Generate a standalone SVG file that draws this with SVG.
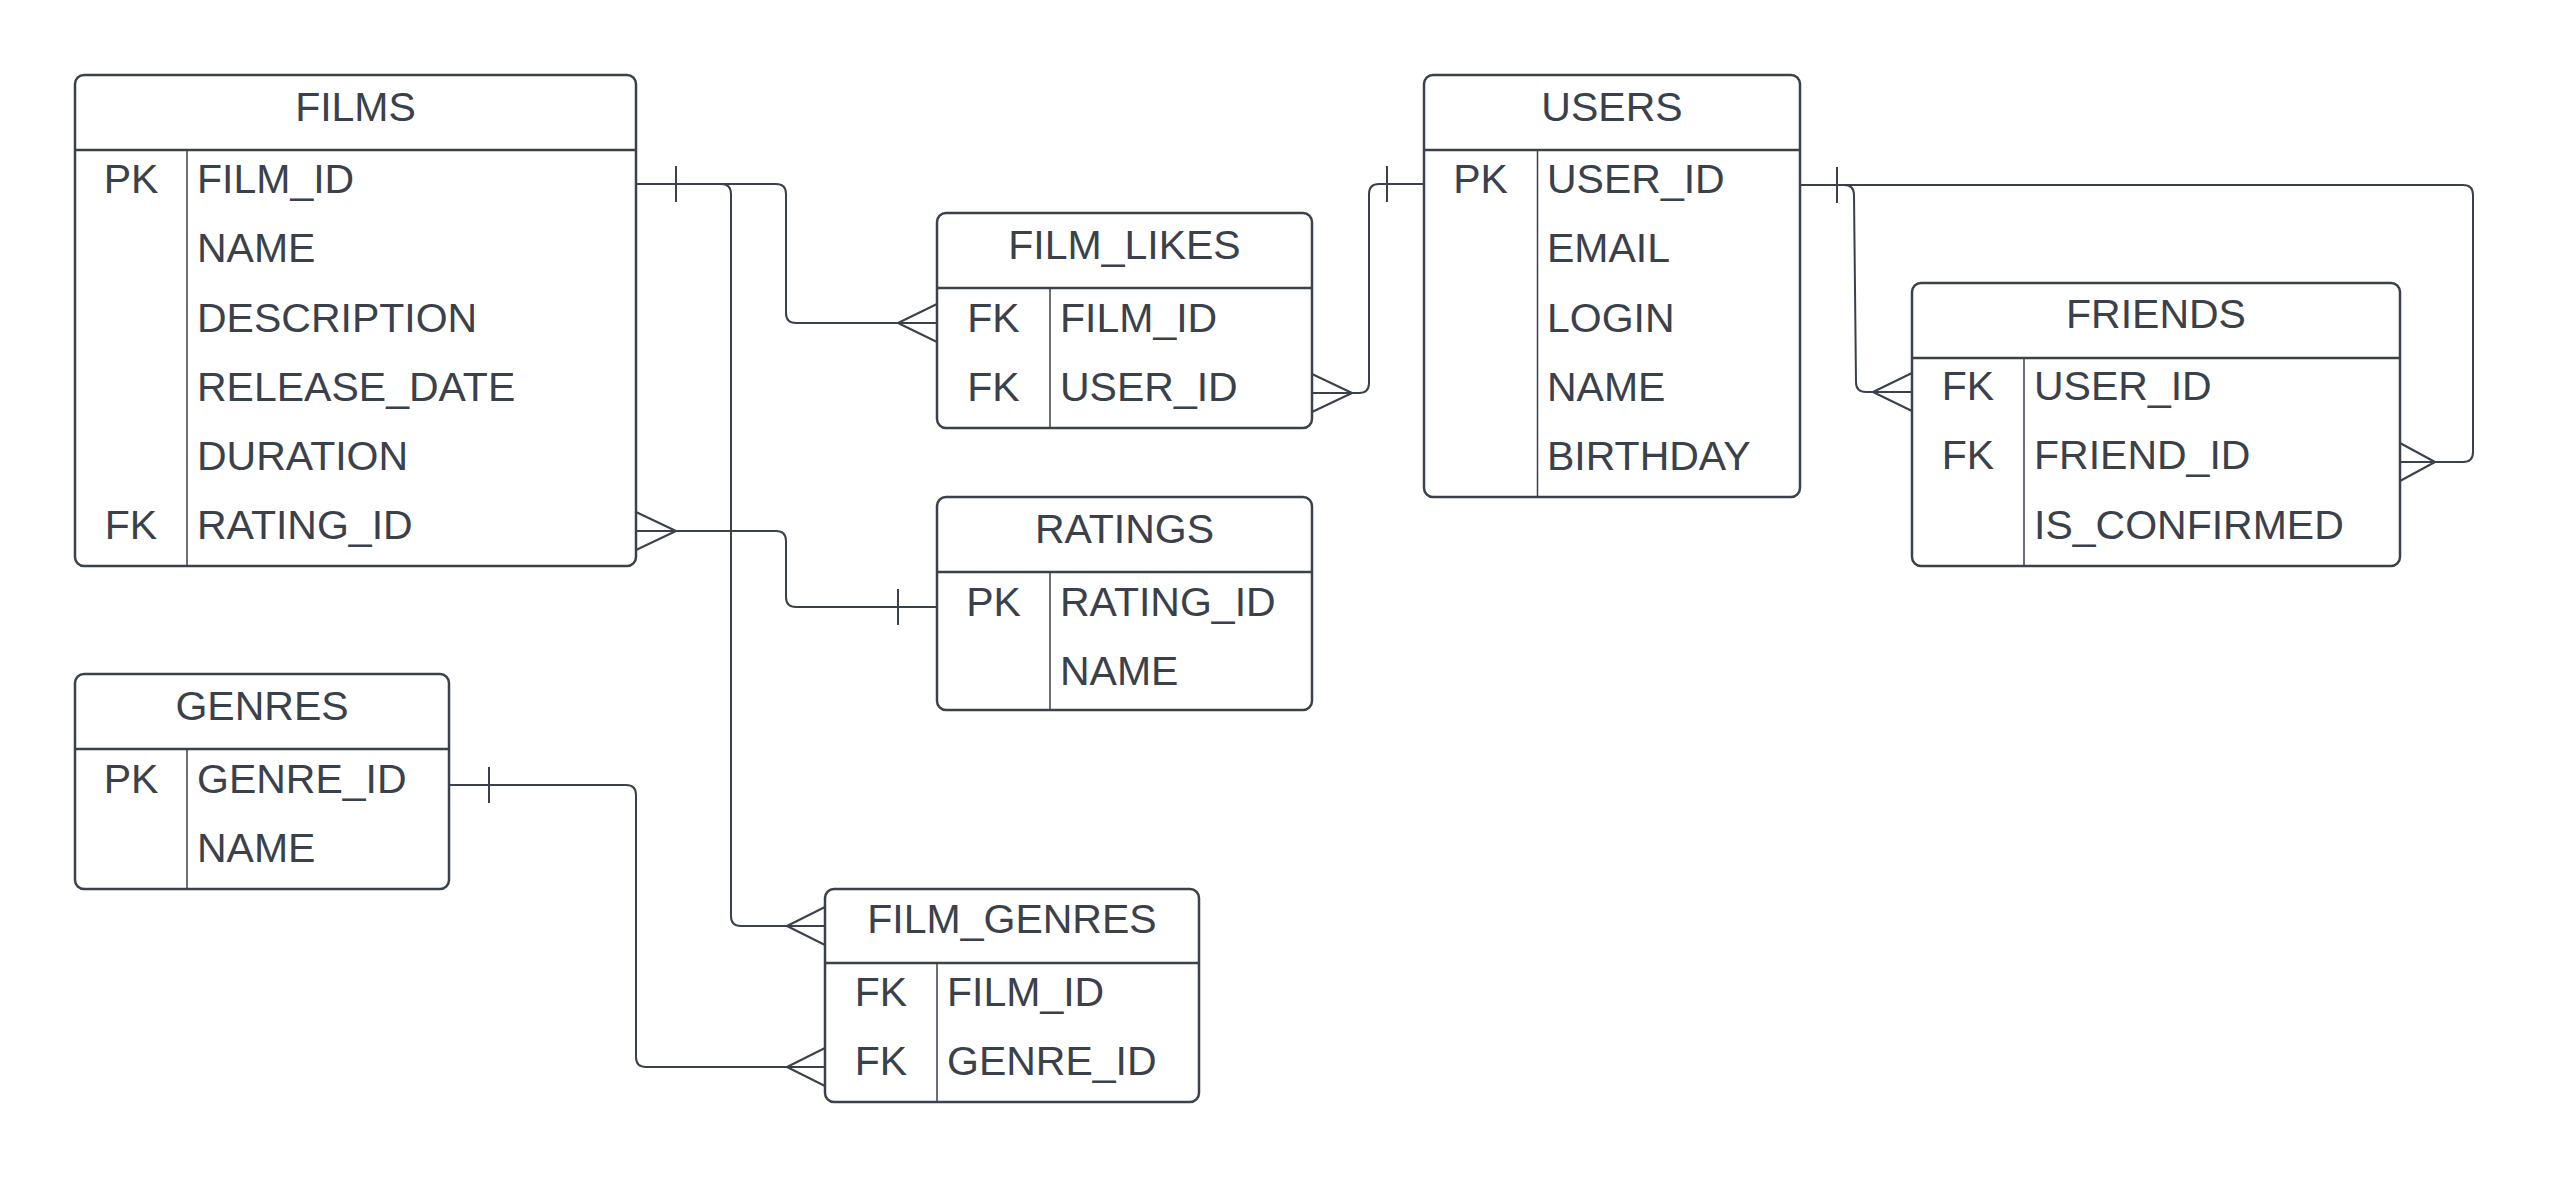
<svg xmlns="http://www.w3.org/2000/svg" width="2552" height="1178" viewBox="0 0 2552 1178">
<style>
.box{fill:#ffffff;stroke:#3a414b;stroke-width:2.5}
.hdr{stroke:#3a414b;stroke-width:2.5}
.div{stroke:#3a414b;stroke-width:1.5}
text{font-family:"Liberation Sans",Arial,sans-serif;font-size:41px;fill:#3a414b}
.t{text-anchor:middle}
.k{text-anchor:middle}
.c{fill:none;stroke:#3a414b;stroke-width:2}
</style>
<rect width="2552" height="1178" fill="#ffffff"/>
<g id="connectors">
<path class="c" d="M636,184 H776 Q786,184 786,194 V313 Q786,323 796,323 H937"/>
<path class="c" d="M676,166 V202 M898,323 L937,304 M898,323 L937,342"/>
<path class="c" d="M721,184 Q731,184 731,194 V916 Q731,926 741,926 H825"/>
<path class="c" d="M787,926 L825,907 M787,926 L825,945"/>
<path class="c" d="M636,531 H776 Q786,531 786,541 V597 Q786,607 796,607 H937"/>
<path class="c" d="M676,531 L636,512 M676,531 L636,550 M898,589 V625"/>
<path class="c" d="M449,785 H626 Q636,785 636,795 V1057 Q636,1067 646,1067 H825"/>
<path class="c" d="M489,767 V803 M787,1067 L825,1048 M787,1067 L825,1086"/>
<path class="c" d="M1312,393 H1359 Q1369,393 1369,383 V194 Q1369,184 1379,184 H1424"/>
<path class="c" d="M1352,393 L1312,374 M1352,393 L1312,412 M1387,166 V202"/>
<path class="c" d="M1800,185 H2463 Q2473,185 2473,195 V452 Q2473,462 2463,462 H2400"/>
<path class="c" d="M1837,167 V203 M2435,462 L2400,443 M2435,462 L2400,481"/>
<path class="c" d="M1844,185 Q1854,185 1854,195 L1856,382 Q1856,392 1866,392 H1912"/>
<path class="c" d="M1873,392 L1912,373 M1873,392 L1912,411"/>
</g>
<g id="films">
<rect class="box" x="75" y="75" width="561" height="491" rx="9"/>
<line class="hdr" x1="75" y1="150" x2="636" y2="150"/>
<line class="div" x1="187" y1="150" x2="187" y2="566"/>
<text class="t" x="355.5" y="121">FILMS</text>
<text class="k" x="131" y="193">PK</text><text x="197" y="193">FILM_ID</text>
<text x="197" y="262">NAME</text>
<text x="197" y="332">DESCRIPTION</text>
<text x="197" y="401">RELEASE_DATE</text>
<text x="197" y="470">DURATION</text>
<text class="k" x="131" y="539">FK</text><text x="197" y="539">RATING_ID</text>
</g>
<g id="film_likes">
<rect class="box" x="937" y="213" width="375" height="215" rx="9"/>
<line class="hdr" x1="937" y1="288" x2="1312" y2="288"/>
<line class="div" x1="1050" y1="288" x2="1050" y2="428"/>
<text class="t" x="1124.5" y="259">FILM_LIKES</text>
<text class="k" x="993.5" y="332">FK</text><text x="1060" y="332">FILM_ID</text>
<text class="k" x="993.5" y="401">FK</text><text x="1060" y="401">USER_ID</text>
</g>
<g id="ratings">
<rect class="box" x="937" y="497" width="375" height="213" rx="9"/>
<line class="hdr" x1="937" y1="572" x2="1312" y2="572"/>
<line class="div" x1="1050" y1="572" x2="1050" y2="710"/>
<text class="t" x="1124.5" y="543">RATINGS</text>
<text class="k" x="993.5" y="616">PK</text><text x="1060" y="616">RATING_ID</text>
<text x="1060" y="685">NAME</text>
</g>
<g id="users">
<rect class="box" x="1424" y="75" width="376" height="422" rx="9"/>
<line class="hdr" x1="1424" y1="150" x2="1800" y2="150"/>
<line class="div" x1="1537.5" y1="150" x2="1537.5" y2="497"/>
<text class="t" x="1612" y="121">USERS</text>
<text class="k" x="1480.5" y="193">PK</text><text x="1547" y="193">USER_ID</text>
<text x="1547" y="262">EMAIL</text>
<text x="1547" y="332">LOGIN</text>
<text x="1547" y="401">NAME</text>
<text x="1547" y="470">BIRTHDAY</text>
</g>
<g id="friends">
<rect class="box" x="1912" y="283" width="488" height="283" rx="9"/>
<line class="hdr" x1="1912" y1="358" x2="2400" y2="358"/>
<line class="div" x1="2024" y1="358" x2="2024" y2="566"/>
<text class="t" x="2156" y="328">FRIENDS</text>
<text class="k" x="1968" y="400">FK</text><text x="2034" y="400">USER_ID</text>
<text class="k" x="1968" y="469">FK</text><text x="2034" y="469">FRIEND_ID</text>
<text x="2034" y="539">IS_CONFIRMED</text>
</g>
<g id="genres">
<rect class="box" x="75" y="674" width="374" height="215" rx="9"/>
<line class="hdr" x1="75" y1="749" x2="449" y2="749"/>
<line class="div" x1="187" y1="749" x2="187" y2="889"/>
<text class="t" x="262" y="720">GENRES</text>
<text class="k" x="131" y="793">PK</text><text x="197" y="793">GENRE_ID</text>
<text x="197" y="862">NAME</text>
</g>
<g id="film_genres">
<rect class="box" x="825" y="889" width="374" height="213" rx="9"/>
<line class="hdr" x1="825" y1="963" x2="1199" y2="963"/>
<line class="div" x1="937" y1="963" x2="937" y2="1102"/>
<text class="t" x="1012" y="933">FILM_GENRES</text>
<text class="k" x="881" y="1006">FK</text><text x="947" y="1006">FILM_ID</text>
<text class="k" x="881" y="1075">FK</text><text x="947" y="1075">GENRE_ID</text>
</g>
</svg>
